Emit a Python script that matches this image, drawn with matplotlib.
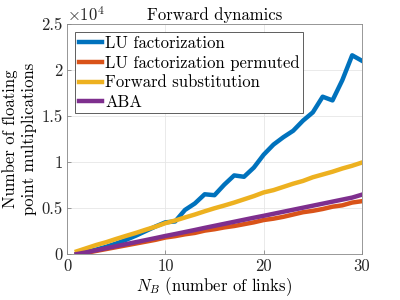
import matplotlib
matplotlib.use('Agg')
import matplotlib.pyplot as plt
from matplotlib.ticker import FuncFormatter

plt.rcParams['font.family'] = ['cmr10', 'DejaVu Serif']
plt.rcParams['mathtext.fontset'] = 'cm'
plt.rcParams['axes.unicode_minus'] = False

n_links = list(range(1, 31))
lu = [0, 250, 500, 800, 1150, 1550, 2000, 2500, 3000, 3450,
      3550, 4800, 5500, 6500, 6400, 7550, 8550, 8400, 9400, 10800,
      11900, 12700, 13400, 14500, 15400, 17100, 16700, 18900, 21600, 21000]
lu_perm = [0, 150, 350, 550, 750, 950, 1150, 1350, 1550, 1800,
           1950, 2150, 2300, 2550, 2700, 2900, 3050, 3250, 3450, 3700,
           3850, 4050, 4300, 4550, 4700, 4900, 5150, 5300, 5600, 5750]
fwd_sub = [300, 650, 1000, 1300, 1650, 1980, 2300, 2650, 2980, 3360,
           3650, 3980, 4300, 4650, 4980, 5280, 5600, 5950, 6300, 6700,
           6950, 7300, 7650, 7950, 8350, 8650, 8950, 9300, 9600, 9950]
aba = [0, 200, 420, 640, 860, 1080, 1300, 1520, 1740, 1970,
       2180, 2400, 2620, 2850, 3070, 3290, 3510, 3730, 3950, 4160,
       4380, 4600, 4820, 5040, 5260, 5480, 5700, 5920, 6140, 6460]

series = [
    ('LU factorization', lu, '#0072BD'),
    ('LU factorization permuted', lu_perm, '#D95319'),
    ('Forward substitution', fwd_sub, '#EDB120'),
    ('ABA', aba, '#7E2F8E'),
]

fig = plt.figure(figsize=(4, 3), dpi=100)
ax = fig.add_axes([0.1675, 0.153, 0.7375, 0.767])

for label, vals, color in series:
    ax.plot(n_links, vals, color=color, linewidth=3.2, label=label)

ax.set_xlim(0, 30)
ax.set_ylim(0, 25000)
ax.set_xticks([0, 10, 20, 30])
ax.set_yticks([0, 5000, 10000, 15000, 20000, 25000])
ax.yaxis.set_major_formatter(FuncFormatter(lambda v, p: '%g' % (v / 1e4)))
ax.text(0.0, 1.0, r'$\times 10^4$', transform=ax.transAxes,
        fontsize=12, ha='left', va='bottom', color='#262626')

ax.grid(True, color='#e6e6e6', linewidth=0.6)
ax.set_axisbelow(True)
for s in ax.spines.values():
    s.set_color('#888888')
    s.set_linewidth(0.6)
ax.tick_params(direction='in', length=3, width=0.6, color='#888888',
               labelsize=12, labelcolor='#262626', pad=3)

ax.set_title('Forward dynamics', fontsize=12, pad=3)
ax.set_xlabel(r'$N_B$ (number of links)', fontsize=12, labelpad=1)
ax.set_ylabel('Number of floating\npoint multiplications', fontsize=12,
              labelpad=3, linespacing=1.3)

leg = ax.legend(loc='upper left', fontsize=12, handlelength=1.4,
                handletextpad=0.2, borderaxespad=0.5, labelspacing=0.25,
                borderpad=0.2, fancybox=False, framealpha=1)
leg.get_frame().set_edgecolor('#444444')
leg.get_frame().set_linewidth(0.6)

fig.savefig('out.png', dpi=100)
